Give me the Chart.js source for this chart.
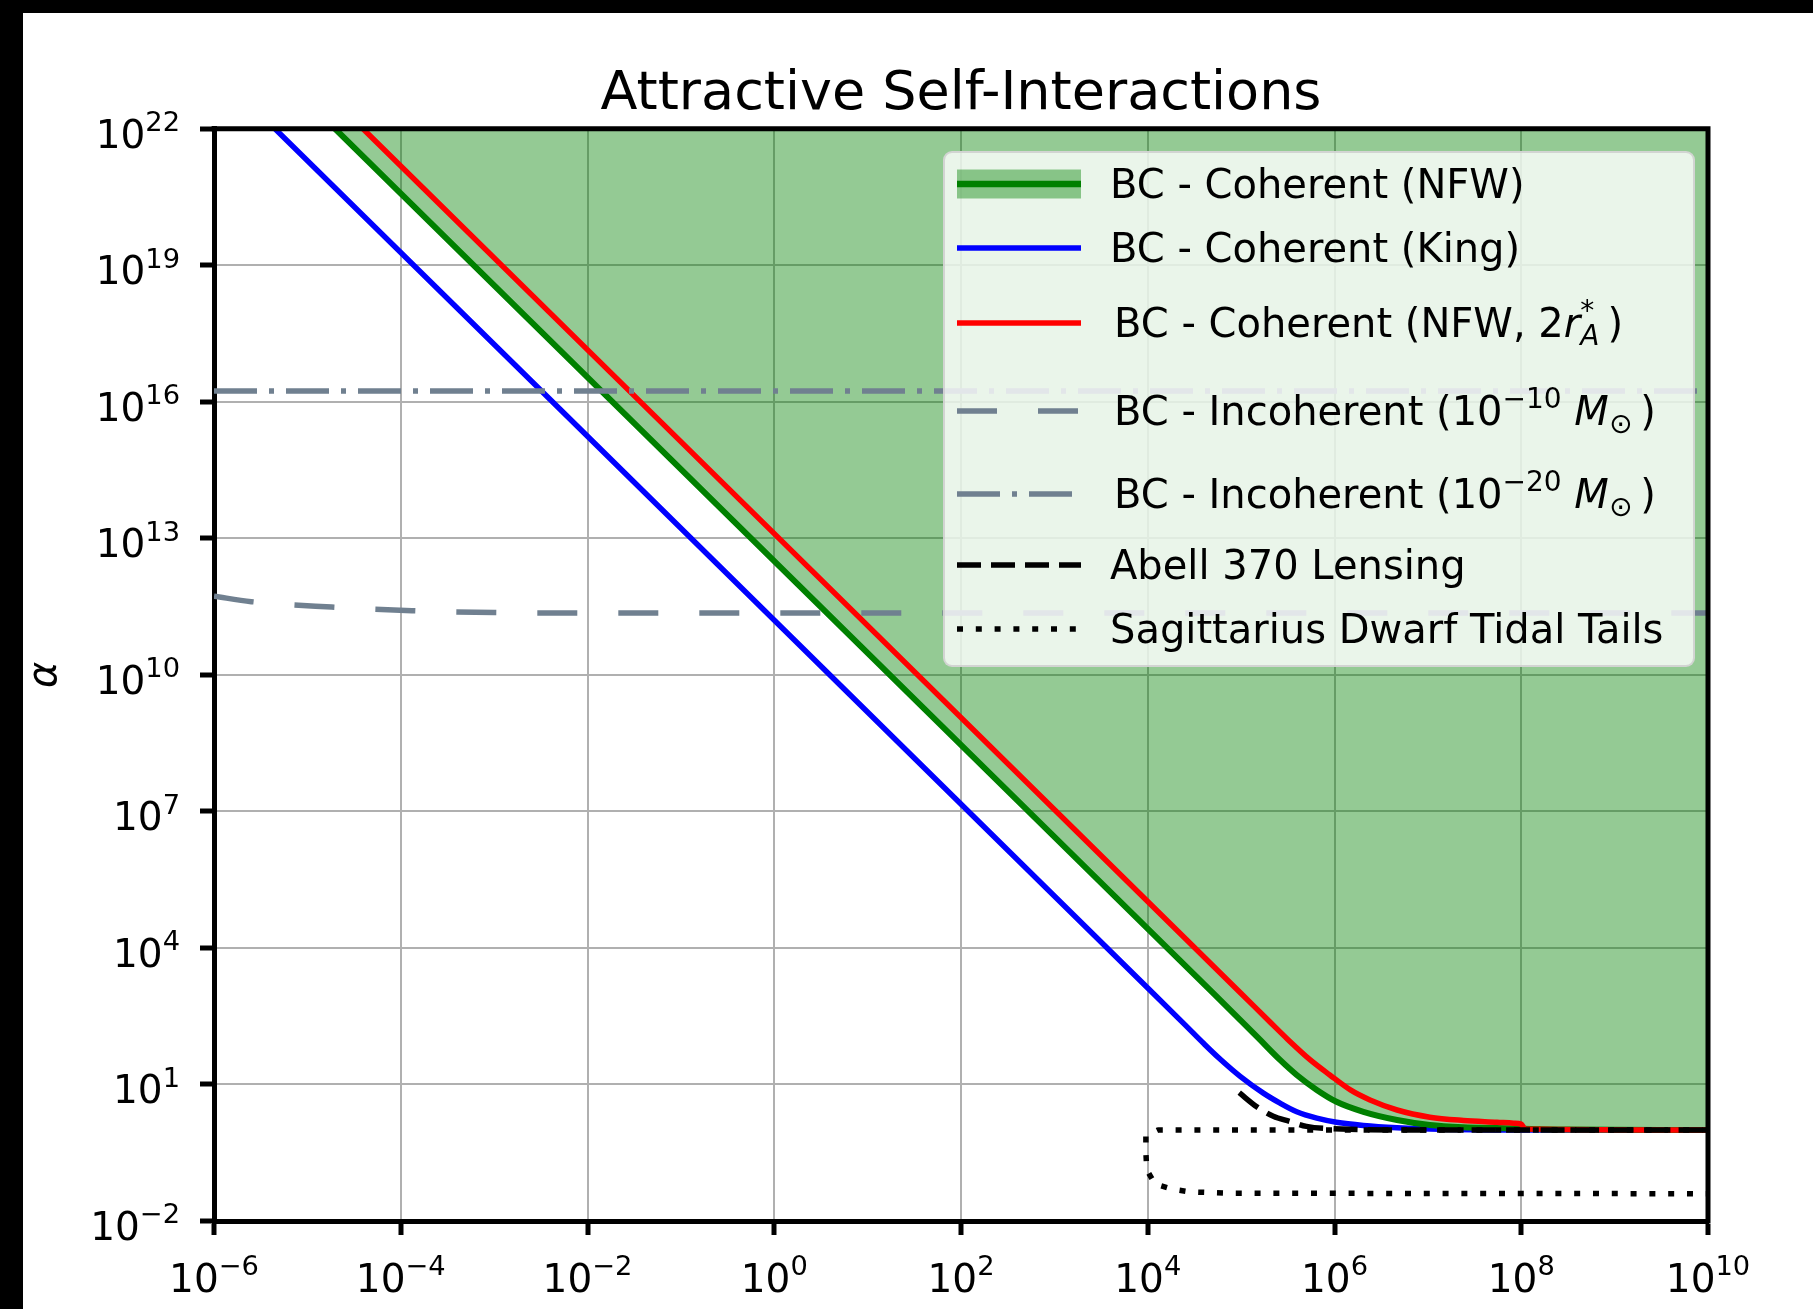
<!DOCTYPE html>
<html>
<head>
<meta charset="utf-8">
<title>Attractive Self-Interactions</title>
<script src="https://cdn.jsdelivr.net/npm/chart.js@4.4.0/dist/chart.umd.min.js"></script>
<style>
  html, body { margin: 0; padding: 0; background: #000; width: 1813px; height: 1309px; overflow: hidden; }
  #wrap { position: absolute; left: 23px; top: 13px; width: 1790px; height: 1296px; background: #fff; filter: blur(0.7px); }
  #legend {
    position: absolute; left: 943px; top: 151px; width: 752px; height: 516px; box-sizing: border-box;
    background: rgba(255,255,255,0.8); border: 2px solid rgba(204,204,204,0.8); border-radius: 9px;
    font-family: "DejaVu Sans"; font-size: 40px; color: #000; filter: blur(0.6px);
  }
  .row { position: absolute; left: 0; width: 100%; height: 60px; }
  .row svg { position: absolute; left: 0; top: 0; }
  .row .t { position: absolute; left: 165px; top: 0; line-height: 60px; white-space: nowrap; }
  .row .m { left: 169px; }
  .sp { font-size: 70%; position: relative; top: -0.6em; }
  .sb { font-size: 70%; position: relative; top: 0.3em; }
</style>
</head>
<body>
<div id="wrap"><canvas id="chart"></canvas></div>
<div id="legend">
  <div class="row" style="top:1px"><svg width="150" height="60"><rect x="12" y="15.5" width="124" height="29" fill="rgba(0,128,0,0.42)"/><line x1="12" y1="30" x2="136" y2="30" stroke="#008000" stroke-width="6.5"/></svg><span class="t">BC - Coherent (NFW)</span></div>
  <div class="row" style="top:65px"><svg width="150" height="60"><line x1="12" y1="30" x2="136" y2="30" stroke="#0000ff" stroke-width="5.5"/></svg><span class="t">BC - Coherent (King)</span></div>
  <div class="row" style="top:140px"><svg width="150" height="60"><line x1="12" y1="30" x2="136" y2="30" stroke="#ff0000" stroke-width="5.5"/></svg><span class="t m">BC - Coherent (NFW, 2<i>r</i><span class="sp">*</span><span class="sb" style="margin-left:-0.5em"><i>A</i></span>&#8201;)</span></div>
  <div class="row" style="top:228px"><svg width="150" height="60"><line x1="12" y1="30" x2="136" y2="30" stroke="#708090" stroke-width="5.5" stroke-dasharray="40 41"/></svg><span class="t m">BC - Incoherent (10<span class="sp">−10</span> <i>M</i><span class="sb">⊙</span>&#8201;)</span></div>
  <div class="row" style="top:311px"><svg width="150" height="60"><line x1="12" y1="30" x2="136" y2="30" stroke="#708090" stroke-width="5.5" stroke-dasharray="43 12 5 12"/></svg><span class="t m">BC - Incoherent (10<span class="sp">−20</span> <i>M</i><span class="sb">⊙</span>&#8201;)</span></div>
  <div class="row" style="top:382px"><svg width="150" height="60"><line x1="12" y1="30" x2="136" y2="30" stroke="#000" stroke-width="5.5" stroke-dasharray="24 10"/></svg><span class="t">Abell 370 Lensing</span></div>
  <div class="row" style="top:446px"><svg width="150" height="60"><line x1="12" y1="30" x2="136" y2="30" stroke="#000" stroke-width="5.5" stroke-dasharray="6 12.8"/></svg><span class="t">Sagittarius Dwarf Tidal Tails</span></div>
</div>
<script>
// axis ticks (powers of ten) and their exponent labels
const xTicks = [1e-6, 1e-4, 1e-2, 1e0, 1e2, 1e4, 1e6, 1e8, 1e10];
const xTickExp = ['−6', '−4', '−2', '0', '2', '4', '6', '8', '10'];
const yTicks = [1e-2, 1e1, 1e4, 1e7, 1e10, 1e13, 1e16, 1e19, 1e22];
const yTickExp = ['−2', '1', '4', '7', '10', '13', '16', '19', '22'];

// BC - Coherent (NFW)
const nfwX = [1.98e-5, 3.98e4, 1e5, 1.58e5, 2.61e5, 3.94e5, 6.46e5, 1.05e6, 2.04e6, 4.68e6, 1.05e7, 2.4e7, 5.5e7, 3.16e8, 1e10];
const nfwY = [1e22, 1.62e3, 251, 97.7, 34.7, 16.2, 7.59, 4.17, 2.51, 1.66, 1.29, 1.15, 1.10, 1.02, 1];
// BC - Coherent (King)
const kingX = [4.5e-6, 1e4, 2.51e4, 3.98e4, 5.94e4, 9.77e4, 1.73e5, 2.61e5, 3.94e5, 6.46e5, 1.05e6, 2.04e6, 4.68e6, 1.05e7, 1e8, 1e10];
const kingY = [1e22, 1.32e3, 204, 79.4, 36.3, 15.1, 6.46, 3.89, 2.51, 1.82, 1.48, 1.26, 1.12, 1.05, 1, 1];
// BC - Coherent (NFW, 2r_A*)
const nfw2X = [3.94e-5, 1e5, 2.0e5, 3.16e5, 5.5e5, 8.91e5, 1.48e6, 2.4e6, 4.68e6, 1.05e7, 2.4e7, 5.5e7, 8.3e7, 1e8, 1.1e8, 1e10];
const nfw2Y = [1e22, 1e3, 245, 97.7, 34.7, 16.2, 7.59, 4.57, 2.75, 1.91, 1.62, 1.48, 1.41, 1.35, 1.05, 1];
// BC - Incoherent (1e-10 Msun)
const inc10X = [1e-6, 2.51e-6, 1.82e-5, 1.32e-4, 1e-3, 1e-2, 1e10];
const inc10Y = [5.37e11, 4.07e11, 3.09e11, 2.57e11, 2.34e11, 2.29e11, 2.29e11];
// BC - Incoherent (1e-20 Msun)
const inc20X = [1e-6, 1e10];
const inc20Y = [1.74e16, 1.74e16];
// Abell 370 lensing
const abellX = [9.55e4, 1.47e5, 2.21e5, 3.31e5, 5.01e5, 8.91e5, 1e7, 1e10];
const abellY = [6.6, 3.24, 2.0, 1.55, 1.2, 1.07, 1, 1];
// Sagittarius dwarf tidal tails (closed on the left)
const sagX = [1e10, 1.29e4, 9.55e3, 9.55e3, 9.77e3, 1.2e4, 1.82e4, 2.82e4, 7.59e4, 1e10];
const sagY = [1, 1, 0.741, 0.316, 0.132, 0.0646, 0.0501, 0.0437, 0.0407, 0.0398];

function pts(xs, ys) {
  return xs.map(function (x, i) { return { x: x, y: ys[i] }; });
}

const FONT = '"DejaVu Sans"';
const TICK_SIZE = 39;

function powLabel(ctx, exp, x, baseline, align) {
  ctx.font = TICK_SIZE + 'px ' + FONT;
  const wb = ctx.measureText('10').width;
  ctx.font = (TICK_SIZE * 0.7) + 'px ' + FONT;
  const we = ctx.measureText(exp).width;
  const w = wb + we;
  const left = align === 'right' ? x - w : x - w / 2;
  ctx.textAlign = 'left';
  ctx.textBaseline = 'alphabetic';
  ctx.font = TICK_SIZE + 'px ' + FONT;
  ctx.fillText('10', left, baseline);
  ctx.font = (TICK_SIZE * 0.7) + 'px ' + FONT;
  ctx.fillText(exp, left + wb, baseline - TICK_SIZE * 0.43);
}

const axisText = {
  id: 'axisText',
  afterDraw: function (chart) {
    const ctx = chart.ctx, area = chart.chartArea;
    const xs = chart.scales.x, ys = chart.scales.y;
    ctx.save();
    // top and right spines
    ctx.strokeStyle = '#000';
    ctx.lineWidth = 5;
    ctx.lineCap = 'square';
    ctx.beginPath();
    ctx.moveTo(area.left, area.top);
    ctx.lineTo(area.right, area.top);
    ctx.lineTo(area.right, area.bottom);
    ctx.stroke();
    ctx.fillStyle = '#000';
    xTicks.forEach(function (v, i) {
      powLabel(ctx, xTickExp[i], xs.getPixelForValue(v), area.bottom + 71, 'center');
    });
    yTicks.forEach(function (v, i) {
      powLabel(ctx, yTickExp[i], area.left - 34, ys.getPixelForValue(v) + 19, 'right');
    });
    // y axis label
    ctx.translate(area.left - 168, (area.top + area.bottom) / 2);
    ctx.rotate(-Math.PI / 2);
    ctx.font = 'italic 40px ' + FONT;
    ctx.textAlign = 'center';
    ctx.textBaseline = 'middle';
    ctx.fillText('α', 0, 0);
    ctx.restore();
  }
};

Chart.defaults.font.family = 'DejaVu Sans';
Chart.defaults.color = '#000';

const gridOpts = { color: '#b0b0b0', lineWidth: 2, drawTicks: true, tickLength: 14, tickColor: '#000', tickWidth: 5 };

new Chart(document.getElementById('chart'), {
  type: 'line',
  data: {
    datasets: [
      { label: 'Sagittarius Dwarf Tidal Tails', data: pts(sagX, sagY), borderColor: '#000', borderWidth: 5.5, borderDash: [6, 12.8], tension: 0, fill: false },
      { label: 'Abell 370 Lensing', data: pts(abellX, abellY), borderColor: '#000', borderWidth: 5.5, borderDash: [24, 10.5], cubicInterpolationMode: 'monotone', fill: false },
      { label: 'BC - Incoherent (1e-20)', data: pts(inc20X, inc20Y), borderColor: '#708090', borderWidth: 5.5, borderDash: [43, 12, 5, 12], fill: false },
      { label: 'BC - Incoherent (1e-10)', data: pts(inc10X, inc10Y), borderColor: '#708090', borderWidth: 5.5, borderDash: [40, 41], cubicInterpolationMode: 'monotone', fill: false },
      { label: 'BC - Coherent (NFW, 2rA)', data: pts(nfw2X, nfw2Y), borderColor: '#ff0000', borderWidth: 5.5, cubicInterpolationMode: 'monotone', fill: false },
      { label: 'BC - Coherent (NFW)', data: pts(nfwX, nfwY), borderColor: '#008000', borderWidth: 6, cubicInterpolationMode: 'monotone', fill: 'end', backgroundColor: 'rgba(0,128,0,0.42)' },
      { label: 'BC - Coherent (King)', data: pts(kingX, kingY), borderColor: '#0000ff', borderWidth: 5.5, cubicInterpolationMode: 'monotone', fill: false }
    ]
  },
  options: {
    responsive: true,
    maintainAspectRatio: false,
    animation: false,
    devicePixelRatio: 1,
    layout: { padding: { left: 177, right: 105, top: 0, bottom: 74 } },
    elements: { point: { radius: 0 }, line: { borderCapStyle: 'butt', borderJoinStyle: 'round' } },
    plugins: {
      legend: { display: false },
      tooltip: { enabled: false },
      filler: { drawTime: 'beforeDatasetsDraw' },
      title: {
        display: true,
        fullSize: false,
        text: 'Attractive Self-Interactions',
        color: '#000',
        font: { family: 'DejaVu Sans', size: 54, weight: 'normal', lineHeight: 1.2 },
        padding: { top: 50, bottom: 1 }
      }
    },
    scales: {
      x: {
        type: 'logarithmic', min: 1e-6, max: 1e10,
        afterBuildTicks: function (axis) { axis.ticks = xTicks.map(function (v) { return { value: v }; }); },
        ticks: { display: false },
        grid: gridOpts,
        border: { color: '#000', width: 5 }
      },
      y: {
        type: 'logarithmic', min: 1e-2, max: 1e22,
        afterBuildTicks: function (axis) { axis.ticks = yTicks.map(function (v) { return { value: v }; }); },
        ticks: { display: false },
        grid: gridOpts,
        border: { color: '#000', width: 5 }
      }
    }
  },
  plugins: [axisText]
});
</script>
</body>
</html>
